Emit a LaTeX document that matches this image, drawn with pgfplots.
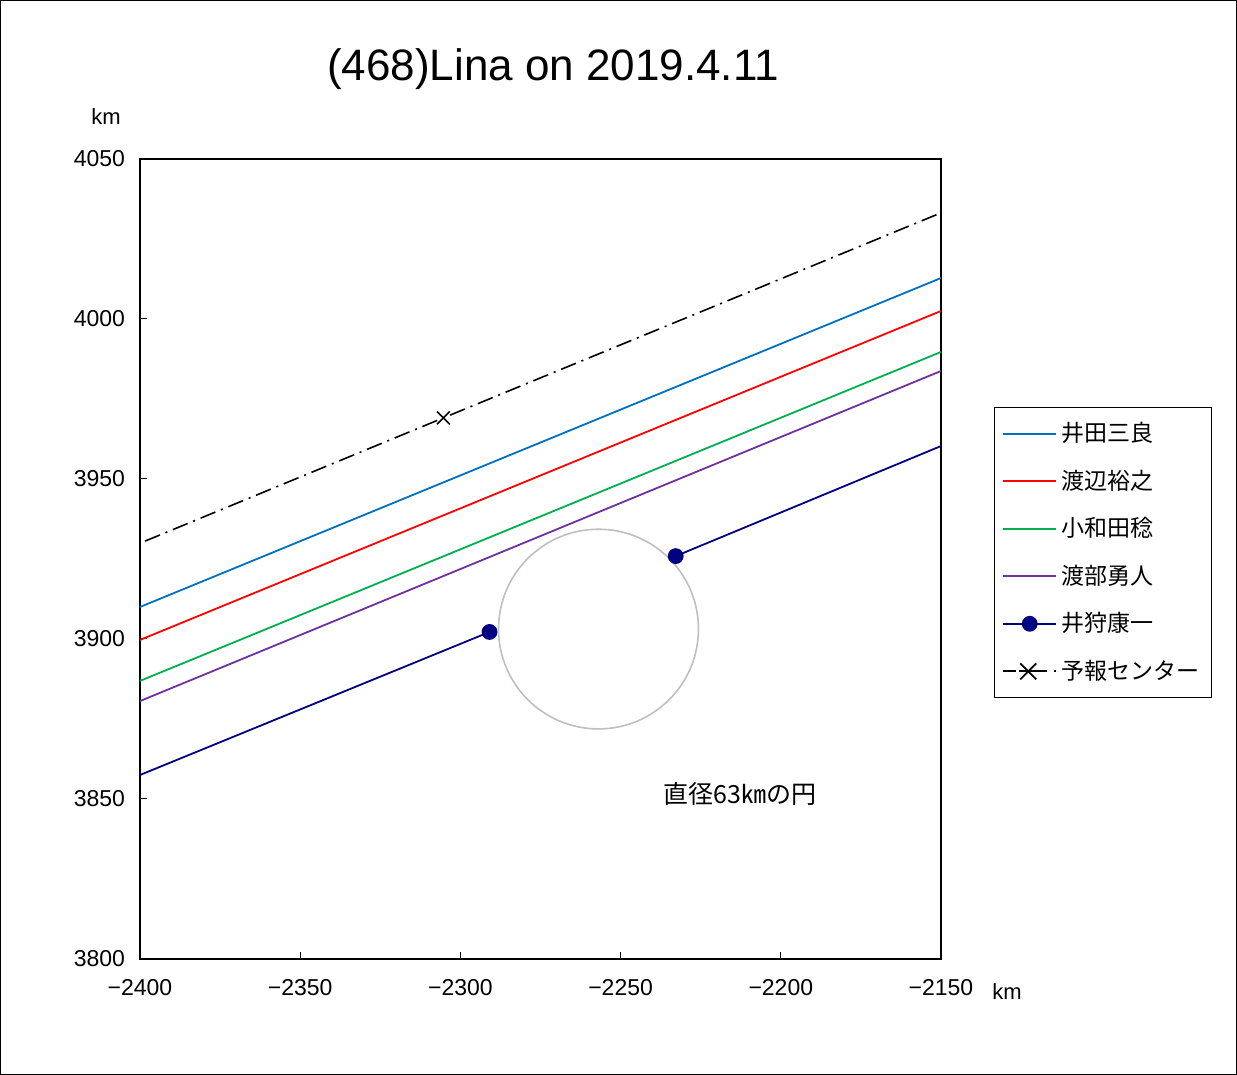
\documentclass[border=0pt]{standalone}
\usepackage{fontspec}
\usepackage{pgfplots}
\pgfplotsset{compat=1.18}
\setmainfont{Liberation Sans}
\newfontfamily\cjk{Noto Sans CJK JP}

\definecolor{cBlue}{HTML}{0070C0}
\definecolor{cRed}{HTML}{FF0000}
\definecolor{cGreen}{HTML}{00B050}
\definecolor{cPurple}{HTML}{7030A0}
\definecolor{cNavy}{HTML}{000080}
\definecolor{cGray}{HTML}{BFBFBF}

\pgfplotsset{
  lineleg/.style={legend image code/.code={\draw[#1, solid, line width=0.9pt] (0pt,0pt) -- (26.5pt,0pt);}},
  dotleg/.style={legend image code/.code={\draw[cNavy, solid, line width=0.9pt] (0pt,0pt) -- (26.5pt,0pt);
    \fill[cNavy] (13.25pt,0pt) circle (3.5pt);}},
  crossleg/.style={legend image code/.code={\draw[black, solid, line width=0.9pt] (0pt,0pt) -- (6.5pt,0pt) (8pt,0pt) -- (22pt,0pt) (25.5pt,0pt) -- (26.5pt,0pt);
    \draw[black, solid, line width=0.9pt] (8.5pt,-4pt) -- (16.5pt,4pt) (8.5pt,4pt) -- (16.5pt,-4pt);}},
}

\begin{document}
\begin{tikzpicture}
\useasboundingbox (-70pt,-58pt) rectangle (548.5pt,479.5pt);
\begin{axis}[
  scale only axis,
  width=400.5pt, height=400pt,
  at={(0,0)}, anchor=south west,
  xmin=-2400, xmax=-2150,
  ymin=3800, ymax=4050,
  xtick={-2400,-2350,...,-2150},
  xticklabels={−2400,−2350,−2300,−2250,−2200,−2150},
  ytick={3800,3850,...,4050},
  tick align=inside,
  xtick pos=lower, ytick pos=left,
  major tick length=3.5pt,
  axis line style={line width=1pt},
  tick style={black, line width=0.5pt},
  /pgf/number format/assume math mode=true,
  /pgf/number format/1000 sep={},
  ticklabel style={font=\fontsize{11.5}{13}\selectfont},
  xticklabel style={yshift=-6.5pt},
  yticklabel style={xshift=-4pt},
  clip=false,
  legend style={at={(1.066,0.69)}, anchor=north west,
    draw=black, line width=0.5pt,
    font=\cjk\fontsize{11.5}{13}\selectfont,
    row sep=8.6pt, inner xsep=4pt, inner ysep=5.5pt,
    cells={anchor=west, xshift=1.5pt}},
  legend cell align=left,
]
\addplot[cBlue, line width=0.9pt, lineleg=cBlue] coordinates {(-2400,3910) (-2150,4012.8)};
\addlegendentry{井田三良}
\addplot[cRed, line width=0.9pt, lineleg=cRed] coordinates {(-2400,3899.7) (-2150,4002.5)};
\addlegendentry{渡辺裕之}
\addplot[cGreen, line width=0.9pt, lineleg=cGreen] coordinates {(-2400,3886.9) (-2150,3989.7)};
\addlegendentry{小和田稔}
\addplot[cPurple, line width=0.9pt, lineleg=cPurple] coordinates {(-2400,3880.6) (-2150,3983.75)};
\addlegendentry{渡部勇人}
\addplot[cNavy, line width=0.9pt, mark=*, mark size=3.5pt, mark indices={2}, dotleg]
  coordinates {(-2400,3857.5) (-2290.9,3902.2)};
\addlegendentry{井狩康一}
\addplot[black, line width=0.8pt, dash pattern=on 8pt off 3pt on 1pt off 3pt,
  mark=x, mark size=4.5pt, mark indices={2}, mark options={solid}, crossleg]
  coordinates {(-2398.4,3930.6) (-2305.3,3969.1) (-2150.9,4032.8)};
\addlegendentry{予報センター}
\addplot[cNavy, line width=0.9pt, mark=*, mark size=3.5pt, mark indices={1}, forget plot]
  coordinates {(-2232.8,3925.9) (-2150,3960.3)};
\draw[cGray, line width=0.8pt] (axis cs:-2256.9,3903.1) circle [radius=31.2];
\node[font=\cjk\fontsize{12.5}{14}\selectfont] at (axis cs:-2212.8,3851.6) {直径63㎞の円};
\end{axis}
\node[font=\fontsize{22}{25}\selectfont, anchor=base] at (206.5pt,439pt) {(468)Lina on 2019.4.11};
\node[font=\fontsize{11}{12}\selectfont] at (-17pt,421pt) {km};
\node[font=\fontsize{11}{12}\selectfont] at (433.5pt,-16.5pt) {km};
\draw[black, line width=0.5pt] (-69.75pt,-57.75pt) rectangle (548.25pt,479.25pt);
\end{tikzpicture}
\end{document}
